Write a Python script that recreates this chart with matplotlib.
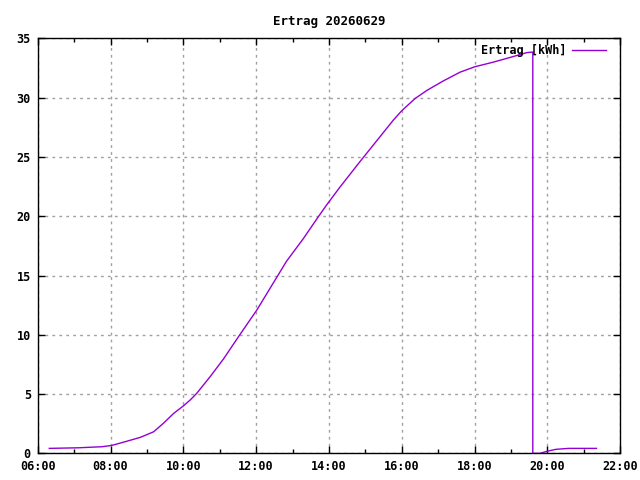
import matplotlib
matplotlib.use("Agg")
import matplotlib.pyplot as plt
import matplotlib.ticker as mtick
from matplotlib.font_manager import FontProperties

# ── Data ──────────────────────────────────────────────────────────────────────
times = ["06:19", "07:07", "07:46", "08:02", "08:26", "08:49", "09:11", "09:27",
         "09:44", "10:00", "10:11", "10:22", "10:44", "11:06", "11:31", "12:01",
         "12:28", "12:50", "13:18", "13:41", "13:56", "14:18", "14:51", "15:24",
         "15:46", "16:00", "16:22", "16:41", "17:08", "17:36", "18:00", "18:31",
         "18:59", "19:26", "19:36", "19:36", "19:48", "19:59", "20:14", "20:35",
         "21:21"]
ertrag = [0.42, 0.47, 0.56, 0.67, 1.01, 1.35, 1.82, 2.53,
          3.37, 4.00, 4.49, 5.06, 6.46, 7.95, 9.85, 12.08,
          14.35, 16.20, 18.13, 19.85, 20.94, 22.45, 24.60, 26.70,
          28.10, 28.90, 29.93, 30.60, 31.40, 32.15, 32.60, 33.00,
          33.40, 33.80, 33.85, 0.00, 0.00, 0.17, 0.34, 0.42,
          0.42]

title = "Ertrag 20260629"
label = "Ertrag [kWh]"

_LINE = "#9400D3"
_GRID = "#a0a0a0"
_FONT = dict(family="DejaVu Sans Mono", weight="bold", size=8.5)


def to_hours(t: str) -> float:
    h, m = t.split(":")
    return int(h) + int(m) / 60


hours = [to_hours(t) for t in times]

fig = plt.figure(figsize=(6.4, 4.8), dpi=100)
ax = fig.add_axes([0.059, 0.0555, 0.910, 0.8645])

ax.plot(hours, ertrag, color=_LINE, linewidth=1.0, label=label)

ax.set_xlim(6, 22)
ax.set_ylim(0, 35)
ax.xaxis.set_major_locator(mtick.MultipleLocator(2))
ax.xaxis.set_minor_locator(mtick.MultipleLocator(1))
ax.xaxis.set_major_formatter(mtick.FuncFormatter(lambda v, _: f"{int(round(v)):02d}:00"))
ax.yaxis.set_major_locator(mtick.MultipleLocator(5))

ax.grid(which="major", color=_GRID, linestyle=(0, (2, 3)), linewidth=1.0)
ax.tick_params(which="both", direction="in", top=True, right=True, pad=5)
ax.tick_params(which="major", length=5, width=1)
ax.tick_params(which="minor", length=3, width=1)
for lab in ax.get_xticklabels() + ax.get_yticklabels():
    lab.set_fontproperties(FontProperties(**_FONT))
for spine in ax.spines.values():
    spine.set_linewidth(1.0)
    spine.set_color("black")

ax.set_title(title, fontdict=dict(_FONT, size=9), pad=10)

ax.legend(loc="upper right", frameon=False, markerfirst=False,
          handlelength=2.8, handletextpad=0.5, borderaxespad=0.1,
          bbox_to_anchor=(0.985, 1.0),
          prop=FontProperties(**_FONT))

fig.savefig("out.png", dpi=100, facecolor="white")
